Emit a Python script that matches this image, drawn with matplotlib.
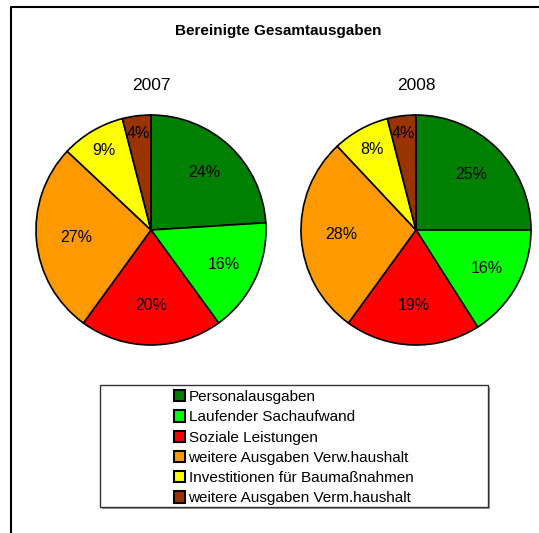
import numpy as np
import matplotlib
matplotlib.use("Agg")
import matplotlib.pyplot as plt
from matplotlib.patches import Patch, Rectangle
from matplotlib.lines import Line2D

plt.rcParams['font.family'] = ['Liberation Sans', 'DejaVu Sans']

title = "Bereinigte Gesamtausgaben"
categories = ["Personalausgaben", "Laufender Sachaufwand", "Soziale Leistungen",
              "weitere Ausgaben Verw.haushalt", "Investitionen für Baumaßnahmen",
              "weitere Ausgaben Verm.haushalt"]
years = ["2007", "2008"]
shares_2007 = [24, 16, 20, 27, 9, 4]
shares_2008 = [25, 16, 19, 28, 8, 4]

colors = ["#008000", "#00ff00", "#ff0000", "#ff9900", "#ffff00", "#993300"]
label_radius = [0.68, 0.70, 0.66, 0.65, 0.80, 0.85]

W, H = 539, 533
fig = plt.figure(figsize=(W / 100, H / 100), dpi=100)


def px(x, y):
    # pixel position (top-left origin) -> figure fraction
    return x / W, 1 - y / H


# outer frame (cut off at right/bottom)
fig.add_artist(Line2D([11 / W, 11 / W, 1.0], [0.0, 1 - 7 / H, 1 - 7 / H],
                      transform=fig.transFigure, color="black", lw=1.5))

fig.text(*px(278, 31), title, ha="center", va="center",
         fontsize=11, fontweight="bold")

centers = [(151, 230), (416, 230)]
r = 115
for year, vals, (cx, cy) in zip(years, [shares_2007, shares_2008], centers):
    x0, y1 = px(cx - r, cy + r)
    ax = fig.add_axes([x0, y1, 2 * r / W, 2 * r / H])
    wedges, texts, autotexts = ax.pie(
        vals, colors=colors, startangle=90, counterclock=False,
        autopct=lambda p: f"{p:.0f}%",
        wedgeprops=dict(edgecolor="black", linewidth=1.2, clip_on=False),
        textprops=dict(fontsize=11.5, color="black"))
    for w, t, rad in zip(wedges, autotexts, label_radius):
        mid = np.deg2rad((w.theta1 + w.theta2) / 2)
        t.set_position((rad * np.cos(mid), rad * np.sin(mid)))
    ax.set_xlim(-1, 1)
    ax.set_ylim(-1, 1)
    ax.set_aspect("equal")
    ax.axis("off")
    fig.text(*px(cx, 86), year, ha="center", va="center", fontsize=12.5)

# legend box with shadow
lx0, ly0 = px(100, 507)
lw_, lh_ = 388 / W, 122 / H
fig.add_artist(Rectangle((lx0 + 2 / W, ly0 - 2 / H), lw_, lh_, transform=fig.transFigure,
                         facecolor="#999999", edgecolor="none"))
fig.add_artist(Rectangle((lx0, ly0), lw_, lh_, transform=fig.transFigure,
                         facecolor="white", edgecolor="#333333", lw=1))

handles = [Patch(facecolor=c, edgecolor="black", lw=1.5) for c in colors]
leg = fig.legend(handles, categories, loc="upper left",
                 bbox_to_anchor=px(174, 390), frameon=False, fontsize=11,
                 handlelength=0.75, handleheight=0.75, handletextpad=0.2,
                 labelspacing=0.41, borderpad=0, borderaxespad=0)

fig.savefig("out.png", dpi=100, facecolor="white")
